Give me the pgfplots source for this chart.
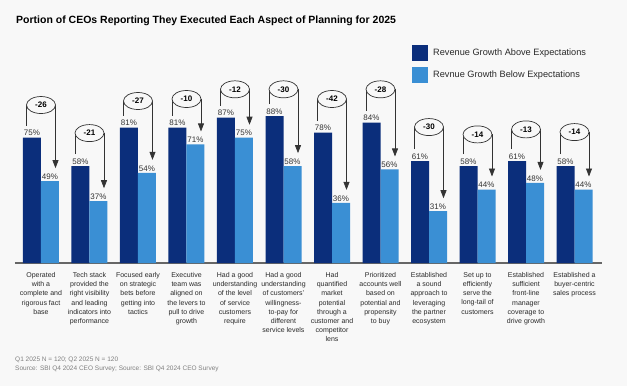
\documentclass[border=0pt]{standalone}
\usepackage{pgfplots}
\pgfplotsset{compat=1.18}
\usepackage{fontspec}
\setmainfont{Liberation Sans}
\usetikzlibrary{shapes.geometric,arrows.meta}
\definecolor{darkb}{HTML}{0B2E7B}
\definecolor{lightb}{HTML}{3A8FD4}
\definecolor{bg}{HTML}{F8F8F8}
\definecolor{linec}{HTML}{333333}
\definecolor{txt}{HTML}{2A2A2A}
\newcommand{\annot}[5]{%
 \draw[line width=0.7pt, color=linec] ([xshift=-14.5pt,yshift=12pt]axis cs:#1,#2) -- ([xshift=-14.5pt]axis cs:#1,#4);
 \draw[line width=0.7pt, color=linec, -{Triangle[width=6pt,length=8pt]}] ([xshift=14.5pt]axis cs:#1,#4) -- ([xshift=14.5pt,yshift=13pt]axis cs:#1,#3);
 \node[ellipse, draw=linec, line width=0.7pt, fill=bg, minimum width=29pt, minimum height=17pt, inner sep=0pt, text=black, font=\bfseries\fontsize{8}{9}\selectfont] at (axis cs:#1,#4) {#5};
}
\begin{document}
\begin{tikzpicture}
\path[use as bounding box, fill=bg] (0pt,0pt) rectangle (627pt,386pt);
\node[anchor=west, inner sep=0pt, font=\bfseries\fontsize{10.5}{12}\selectfont, text=black] at (16pt,365pt) {Portion of CEOs Reporting They Executed Each Aspect of Planning for 2025};
\node[anchor=west, inner sep=0pt, font=\fontsize{6.5}{8}\selectfont, text=black!50] at (15pt,26pt) {Q1 2025 N = 120; Q2 2025 N = 120};
\node[anchor=west, inner sep=0pt, font=\fontsize{6.5}{8}\selectfont, text=black!50] at (15pt,17pt) {Source: SBI Q4 2024 CEO Survey; Source: SBI Q4 2024 CEO Survey};
\begin{axis}[
  at={(15pt,123pt)}, anchor=south west,
  scale only axis, width=587pt, height=183.7pt,
  xmin=-0.536, xmax=11.567, ymin=0, ymax=110,
  clip=false,
  ybar, bar width=18pt,
  /pgf/number format/assume math mode=true,
  axis x line*=bottom, axis y line=none,
  x axis line style={-, color=black!60, line width=1.2pt},
  xtick={0,...,11}, xtick style={draw=none}, ytick=\empty,
  xticklabels={
    {Operated\\with a\\complete and\\rigorous fact\\base},
    {Tech stack\\provided the\\right visibility\\and leading\\indicators into\\performance},
    {Focused early\\on strategic\\bets before\\getting into\\tactics},
    {Executive\\team was\\aligned on\\the levers to\\pull to drive\\growth},
    {Had a good\\understanding\\of the level\\of service\\customers\\require},
    {Had a good\\understanding\\of customers'\\willingness-\\to-pay for\\different\\service levels},
    {Had\\quantified\\market\\potential\\through a\\customer and\\competitor\\lens},
    {Prioritized\\accounts well\\based on\\potential and\\propensity\\to buy},
    {Established\\a sound\\approach to\\leveraging\\the partner\\ecosystem},
    {Set up to\\efficiently\\serve the\\long-tail of\\customers},
    {Established\\sufficient\\front-line\\manager\\coverage to\\drive growth},
    {Established a\\buyer-centric\\sales process}},
  xticklabel style={align=center, font=\fontsize{7}{9.2}\selectfont, text=txt, inner sep=0pt, yshift=-5pt},
  nodes near coords={\pgfmathprintnumber{\pgfplotspointmeta}\%},
  every node near coord/.append style={font=\fontsize{8}{9}\selectfont, text=linec, inner sep=1.5pt},
  legend style={at={(0.6763,1.1867)}, anchor=north west, draw=none, fill=none, inner sep=0pt,
    row sep=6pt, font=\fontsize{9.2}{11}\selectfont, text=txt,
    nodes={inner sep=0pt, anchor=west},
    /tikz/every odd column/.append style={column sep=5pt}},
  legend cell align=left,
  legend image code/.code={\fill[#1] (0pt,-8pt) rectangle (16pt,8pt);},
]
\addplot[fill=darkb, draw=none, bar shift=-9pt] coordinates {(0,75) (1,58) (2,81) (3,81) (4,87) (5,88) (6,78) (7,84) (8,61) (9,58) (10,61) (11,58)};
\addplot[fill=lightb, draw=none, bar shift=9pt] coordinates {(0,49) (1,37) (2,54) (3,71) (4,75) (5,58) (6,36) (7,56) (8,31) (9,44) (10,48) (11,44)};
\legend{Revenue Growth Above Expectations, Revnue Growth Below Expectations}
\annot{0}{75}{49}{94.6}{-26}
\annot{1}{58}{37}{77.8}{-21}
\annot{2}{81}{54}{97}{-27}
\annot{3}{81}{71}{98.2}{-10}
\annot{4}{87}{75}{104}{-12}
\annot{5}{88}{58}{104}{-30}
\annot{6}{78}{36}{98.2}{-42}
\annot{7}{84}{56}{104}{-28}
\annot{8}{61}{31}{81.4}{-30}
\annot{9}{58}{44}{77}{-14}
\annot{10}{61}{48}{80}{-13}
\annot{11}{58}{44}{78.4}{-14}
\end{axis}
\end{tikzpicture}
\end{document}
